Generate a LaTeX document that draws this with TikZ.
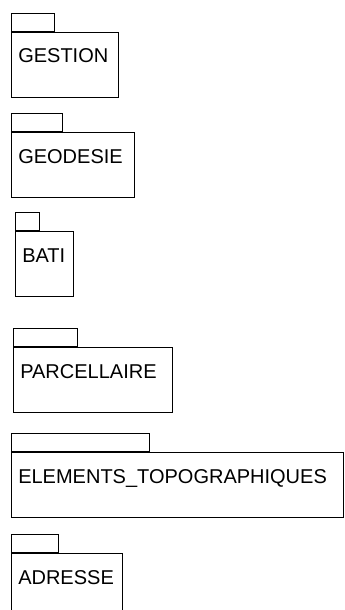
\documentclass[tikz,border=0pt]{standalone}
\usepackage{fontspec}
\setmainfont{Liberation Sans}
\usetikzlibrary{positioning}

\begin{document}
\begin{tikzpicture}[x=0.75pt, y=-0.75pt,
    pkg/.style={draw, rectangle, line width=0.75pt, inner sep=0pt, minimum height=48.75pt, anchor=north west},
    pkgtab/.style={draw, rectangle, line width=0.75pt, inner sep=0pt, minimum height=13.5pt, anchor=south west},
    pkgname/.style={inner sep=0pt, anchor=base west, font=\fontsize{15}{18}\selectfont}]
    \clip (0,0) rectangle (345,610);

    % package bodies
    \node [pkg, minimum width=80.25pt] (gestion) at (11,32) {};
    \node [pkg, minimum width=92.25pt] (geodesie) at (11,132) {};
    \node [pkg, minimum width=43.5pt] (bati) at (15,231) {};
    \node [pkg, minimum width=119.25pt] (parcellaire) at (13,347) {};
    \node [pkg, minimum width=249pt] (elements) at (11,452) {};
    \node [pkg, minimum width=83.25pt] (adresse) at (11,553) {};

    % tabs
    \node [pkgtab, minimum width=32.25pt] (gestion tab) at (gestion.north west) {};
    \node [pkgtab, minimum width=38.25pt] (geodesie tab) at (geodesie.north west) {};
    \node [pkgtab, minimum width=18pt] (bati tab) at (bati.north west) {};
    \node [pkgtab, minimum width=48pt] (parcellaire tab) at (parcellaire.north west) {};
    \node [pkgtab, minimum width=103.5pt] (elements tab) at (elements.north west) {};
    \node [pkgtab, minimum width=35.25pt] (adresse tab) at (adresse.north west) {};

    % names
    \node [pkgname] (gestion name) at ([xshift=5.25pt, yshift=-23.25pt]gestion.north west) {GESTION};
    \node [pkgname] (geodesie name) at ([xshift=5.25pt, yshift=-23.25pt]geodesie.north west) {GEODESIE};
    \node [pkgname] (bati name) at ([xshift=5.25pt, yshift=-23.25pt]bati.north west) {BATI};
    \node [pkgname] (parcellaire name) at ([xshift=5.25pt, yshift=-23.25pt]parcellaire.north west) {PARCELLAIRE};
    \node [pkgname] (elements name) at ([xshift=5.25pt, yshift=-23.25pt]elements.north west) {ELEMENTS\_TOPOGRAPHIQUES};
    \node [pkgname] (adresse name) at ([xshift=5.25pt, yshift=-23.25pt]adresse.north west) {ADRESSE};
\end{tikzpicture}
\end{document}
